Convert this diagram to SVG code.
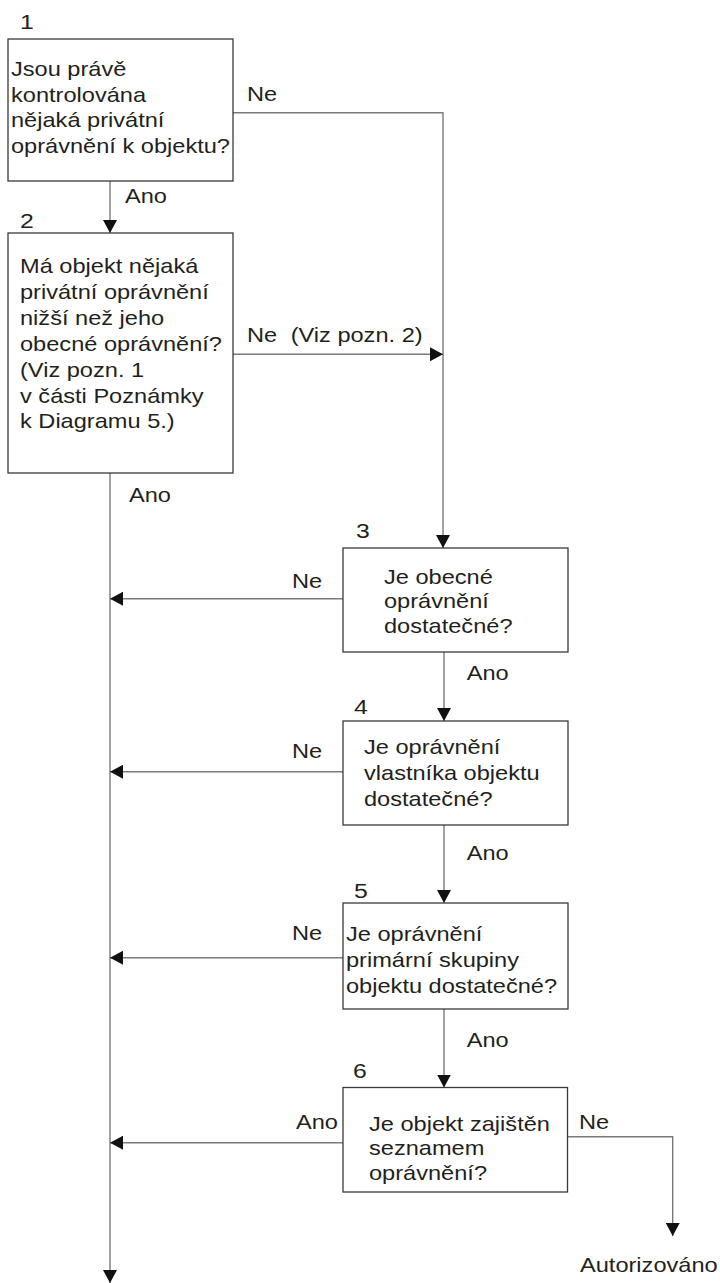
<svg xmlns="http://www.w3.org/2000/svg" width="720" height="1283" viewBox="0 0 720 1283">
<style>
  text { font-family: "Liberation Sans", Arial, sans-serif; font-size: 20px; fill: #231f20; }
  .num { font-size: 21px; }
  .box { fill: #ffffff; stroke: #3a3a3a; stroke-width: 1.3; }
  .conn { fill: none; stroke: #7a7a7a; stroke-width: 1.4; }
</style>
<defs>
  <marker id="ah" viewBox="0 0 13 14" refX="13" refY="7" markerWidth="13" markerHeight="14" markerUnits="userSpaceOnUse" orient="auto">
    <path d="M0,0 L13,7 L0,14 Z" fill="#111"/>
  </marker>
</defs>
<rect width="720" height="1283" fill="#ffffff"/>

<g id="connectors">
  <path class="conn" d="M110,181 V233" marker-end="url(#ah)"/>
  <path class="conn" d="M233,112.7 H443 V548" marker-end="url(#ah)"/>
  <path class="conn" d="M233,354.3 H443" marker-end="url(#ah)"/>
  <path class="conn" d="M110,473 V1283" marker-end="url(#ah)"/>
  <path class="conn" d="M343,598.7 H110" marker-end="url(#ah)"/>
  <path class="conn" d="M444,652 V721" marker-end="url(#ah)"/>
  <path class="conn" d="M343,771.7 H110" marker-end="url(#ah)"/>
  <path class="conn" d="M444,825 V903" marker-end="url(#ah)"/>
  <path class="conn" d="M343,957.7 H110" marker-end="url(#ah)"/>
  <path class="conn" d="M444,1009 V1087.5" marker-end="url(#ah)"/>
  <path class="conn" d="M343,1142.7 H110" marker-end="url(#ah)"/>
  <path class="conn" d="M567.5,1136.7 H672.7 V1236" marker-end="url(#ah)"/>
</g>

<g id="labels">
  <text transform="translate(247,100.7) scale(1.18,1)">Ne</text>
  <text transform="translate(125,203.3) scale(1.18,1)">Ano</text>
  <text transform="translate(247,341.7) scale(1.18,1)">Ne<tspan x="37">(Viz pozn. 2)</tspan></text>
  <text transform="translate(129,501.7) scale(1.18,1)">Ano</text>
  <text transform="translate(292,587.7) scale(1.18,1)">Ne</text>
  <text transform="translate(466.7,680) scale(1.18,1)">Ano</text>
  <text transform="translate(292,758) scale(1.18,1)">Ne</text>
  <text transform="translate(466.7,860) scale(1.18,1)">Ano</text>
  <text transform="translate(292,940) scale(1.18,1)">Ne</text>
  <text transform="translate(466.7,1046.7) scale(1.18,1)">Ano</text>
  <text transform="translate(296,1129.3) scale(1.18,1)">Ano</text>
  <text transform="translate(579,1129) scale(1.18,1)">Ne</text>
  <text transform="translate(580,1271.7) scale(1.18,1)">Autorizováno</text>
</g>

<g id="node1">
  <text class="num" transform="translate(20,29.3) scale(1.18,1)">1</text>
  <rect class="box" x="8" y="39" width="225" height="142"/>
  <text transform="translate(11,76) scale(1.18,1)">
    <tspan x="0" y="0">Jsou právě</tspan>
    <tspan x="0" y="25.7">kontrolována</tspan>
    <tspan x="0" y="51.5">nějaká privátní</tspan>
    <tspan x="0" y="77.2">oprávnění k objektu?</tspan>
  </text>
</g>

<g id="node2">
  <text class="num" transform="translate(20,228) scale(1.18,1)">2</text>
  <rect class="box" x="8" y="233" width="225" height="240"/>
  <text transform="translate(20,273.3) scale(1.18,1)">
    <tspan x="0" y="0">Má objekt nějaká</tspan>
    <tspan x="0" y="26">privátní oprávnění</tspan>
    <tspan x="0" y="51.7">nižší než jeho</tspan>
    <tspan x="0" y="77.4">obecné oprávnění?</tspan>
    <tspan x="0" y="103.4">(Viz pozn. 1</tspan>
    <tspan x="0" y="129.4">v části Poznámky</tspan>
    <tspan x="0" y="155">k Diagramu 5.)</tspan>
  </text>
</g>

<g id="node3">
  <text class="num" transform="translate(356,538) scale(1.18,1)">3</text>
  <rect class="box" x="343" y="548" width="225" height="104"/>
  <text transform="translate(384,584) scale(1.18,1)">
    <tspan x="0" y="0">Je obecné</tspan>
    <tspan x="0" y="24.5">oprávnění</tspan>
    <tspan x="0" y="49">dostatečné?</tspan>
  </text>
</g>

<g id="node4">
  <text class="num" transform="translate(354,714) scale(1.18,1)">4</text>
  <rect class="box" x="343" y="721" width="225" height="104"/>
  <text transform="translate(364,754) scale(1.18,1)">
    <tspan x="0" y="0">Je oprávnění</tspan>
    <tspan x="0" y="26">vlastníka objektu</tspan>
    <tspan x="0" y="52.5">dostatečné?</tspan>
  </text>
</g>

<g id="node5">
  <text class="num" transform="translate(354,898) scale(1.18,1)">5</text>
  <rect class="box" x="343" y="903" width="225" height="106"/>
  <text transform="translate(346,941) scale(1.18,1)">
    <tspan x="0" y="0">Je oprávnění</tspan>
    <tspan x="0" y="26">primární skupiny</tspan>
    <tspan x="0" y="52">objektu dostatečné?</tspan>
  </text>
</g>

<g id="node6">
  <text class="num" transform="translate(353,1078) scale(1.18,1)">6</text>
  <rect class="box" x="343" y="1087.5" width="224.5" height="104.5"/>
  <text transform="translate(369,1130.7) scale(1.18,1)">
    <tspan x="0" y="0">Je objekt zajištěn</tspan>
    <tspan x="0" y="24.5">seznamem</tspan>
    <tspan x="0" y="49.5">oprávnění?</tspan>
  </text>
</g>
</svg>
